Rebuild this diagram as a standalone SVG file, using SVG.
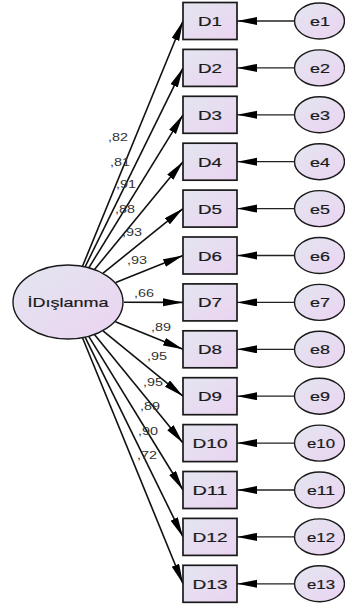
<svg xmlns="http://www.w3.org/2000/svg" width="345" height="608" viewBox="0 0 345 608">
<defs>
<linearGradient id="g" x1="0" y1="0" x2="1" y2="1">
<stop offset="0" stop-color="#e3e6f0"/>
<stop offset="1" stop-color="#ebd3f1"/>
</linearGradient>
<marker id="ah" markerUnits="userSpaceOnUse" markerWidth="21" markerHeight="9" refX="20" refY="4" orient="auto">
<path d="M0,0 L20,4 L0,8 z" fill="#000"/>
</marker>
<style>
.box{fill:url(#g);stroke:#1a1a1a;stroke-width:1.7}
.ell{fill:url(#g);stroke:#1a1a1a;stroke-width:1.4}
.t{font-family:"Liberation Sans",Arial,sans-serif;font-size:13.5px;fill:#1a1a1a;text-anchor:middle;stroke:#1a1a1a;stroke-width:0.2}
.lab{font-family:"Liberation Sans",Arial,sans-serif;font-size:10px;fill:#333}
.ld{stroke:#111;stroke-width:1.6;fill:none;marker-end:url(#ah)}
.er{stroke:#222;stroke-width:1.3;fill:none;marker-end:url(#ah)}
</style>
</defs>
<g id="connectors">
<line class="ld" x1="82.5" y1="266.3" x2="183" y2="21"/>
<line class="ld" x1="85.1" y1="266.8" x2="183" y2="67.9"/>
<line class="ld" x1="88.9" y1="267.7" x2="183" y2="114.8"/>
<line class="ld" x1="94.5" y1="269.4" x2="183" y2="161.7"/>
<line class="ld" x1="103.1" y1="273.2" x2="183" y2="208.6"/>
<line class="ld" x1="115.7" y1="282.6" x2="183" y2="255.5"/>
<line class="ld" x1="124" y1="302.3" x2="183" y2="302.4"/>
<line class="ld" x1="115.4" y1="321.7" x2="183" y2="349.3"/>
<line class="ld" x1="103" y1="330.9" x2="183" y2="396.2"/>
<line class="ld" x1="94.4" y1="334.6" x2="183" y2="443.1"/>
<line class="ld" x1="88.8" y1="336.3" x2="183" y2="490"/>
<line class="ld" x1="85.1" y1="337.2" x2="183" y2="536.9"/>
<line class="ld" x1="82.5" y1="337.8" x2="183" y2="583.8"/>
<line class="er" x1="294" y1="21" x2="237" y2="21"/>
<line class="er" x1="294" y1="67.9" x2="237" y2="67.9"/>
<line class="er" x1="294" y1="114.8" x2="237" y2="114.8"/>
<line class="er" x1="294" y1="161.7" x2="237" y2="161.7"/>
<line class="er" x1="294" y1="208.6" x2="237" y2="208.6"/>
<line class="er" x1="294" y1="255.5" x2="237" y2="255.5"/>
<line class="er" x1="294" y1="302.4" x2="237" y2="302.4"/>
<line class="er" x1="294" y1="349.3" x2="237" y2="349.3"/>
<line class="er" x1="294" y1="396.2" x2="237" y2="396.2"/>
<line class="er" x1="294" y1="443.1" x2="237" y2="443.1"/>
<line class="er" x1="294" y1="490" x2="237" y2="490"/>
<line class="er" x1="294" y1="536.9" x2="237" y2="536.9"/>
<line class="er" x1="294" y1="583.8" x2="237" y2="583.8"/>
<text class="lab" x="108" y="141" textLength="20" lengthAdjust="spacingAndGlyphs">,82</text>
<text class="lab" x="110" y="166" textLength="20" lengthAdjust="spacingAndGlyphs">,81</text>
<text class="lab" x="116" y="188" textLength="20" lengthAdjust="spacingAndGlyphs">,91</text>
<text class="lab" x="115" y="213" textLength="20" lengthAdjust="spacingAndGlyphs">,88</text>
<text class="lab" x="122" y="236" textLength="20" lengthAdjust="spacingAndGlyphs">,93</text>
<text class="lab" x="127" y="264" textLength="20" lengthAdjust="spacingAndGlyphs">,93</text>
<text class="lab" x="134" y="297" textLength="20" lengthAdjust="spacingAndGlyphs">,66</text>
<text class="lab" x="151" y="331" textLength="20" lengthAdjust="spacingAndGlyphs">,89</text>
<text class="lab" x="147" y="360" textLength="20" lengthAdjust="spacingAndGlyphs">,95</text>
<text class="lab" x="143" y="386" textLength="20" lengthAdjust="spacingAndGlyphs">,95</text>
<text class="lab" x="140" y="410" textLength="20" lengthAdjust="spacingAndGlyphs">,89</text>
<text class="lab" x="138" y="435" textLength="20" lengthAdjust="spacingAndGlyphs">,90</text>
<text class="lab" x="137" y="459" textLength="20" lengthAdjust="spacingAndGlyphs">,72</text>
</g>
<g id="latent"><ellipse class="ell" cx="68" cy="302" rx="55" ry="37"/><text class="t" x="68" y="307" textLength="81" lengthAdjust="spacingAndGlyphs">İDışlanma</text></g>
<g id="D1"><rect class="box" x="183" y="2.5" width="54" height="37"/><text class="t" x="210" y="26" textLength="24" lengthAdjust="spacingAndGlyphs">D1</text></g>
<g id="D2"><rect class="box" x="183" y="49.4" width="54" height="37"/><text class="t" x="210" y="72.9" textLength="24" lengthAdjust="spacingAndGlyphs">D2</text></g>
<g id="D3"><rect class="box" x="183" y="96.3" width="54" height="37"/><text class="t" x="210" y="119.8" textLength="24" lengthAdjust="spacingAndGlyphs">D3</text></g>
<g id="D4"><rect class="box" x="183" y="143.2" width="54" height="37"/><text class="t" x="210" y="166.7" textLength="24" lengthAdjust="spacingAndGlyphs">D4</text></g>
<g id="D5"><rect class="box" x="183" y="190.1" width="54" height="37"/><text class="t" x="210" y="213.6" textLength="24" lengthAdjust="spacingAndGlyphs">D5</text></g>
<g id="D6"><rect class="box" x="183" y="237" width="54" height="37"/><text class="t" x="210" y="260.5" textLength="24" lengthAdjust="spacingAndGlyphs">D6</text></g>
<g id="D7"><rect class="box" x="183" y="283.9" width="54" height="37"/><text class="t" x="210" y="307.4" textLength="24" lengthAdjust="spacingAndGlyphs">D7</text></g>
<g id="D8"><rect class="box" x="183" y="330.8" width="54" height="37"/><text class="t" x="210" y="354.3" textLength="24" lengthAdjust="spacingAndGlyphs">D8</text></g>
<g id="D9"><rect class="box" x="183" y="377.7" width="54" height="37"/><text class="t" x="210" y="401.2" textLength="24" lengthAdjust="spacingAndGlyphs">D9</text></g>
<g id="D10"><rect class="box" x="183" y="424.6" width="54" height="37"/><text class="t" x="210" y="448.1" textLength="35" lengthAdjust="spacingAndGlyphs">D10</text></g>
<g id="D11"><rect class="box" x="183" y="471.5" width="54" height="37"/><text class="t" x="210" y="495" textLength="35" lengthAdjust="spacingAndGlyphs">D11</text></g>
<g id="D12"><rect class="box" x="183" y="518.4" width="54" height="37"/><text class="t" x="210" y="541.9" textLength="35" lengthAdjust="spacingAndGlyphs">D12</text></g>
<g id="D13"><rect class="box" x="183" y="565.3" width="54" height="37"/><text class="t" x="210" y="588.8" textLength="35" lengthAdjust="spacingAndGlyphs">D13</text></g>
<g id="e1"><ellipse class="ell" cx="319.5" cy="21" rx="25" ry="18"/><text class="t" x="320" y="26" textLength="20" lengthAdjust="spacingAndGlyphs">e1</text></g>
<g id="e2"><ellipse class="ell" cx="319.5" cy="67.9" rx="25" ry="18"/><text class="t" x="320" y="72.9" textLength="20" lengthAdjust="spacingAndGlyphs">e2</text></g>
<g id="e3"><ellipse class="ell" cx="319.5" cy="114.8" rx="25" ry="18"/><text class="t" x="320" y="119.8" textLength="20" lengthAdjust="spacingAndGlyphs">e3</text></g>
<g id="e4"><ellipse class="ell" cx="319.5" cy="161.7" rx="25" ry="18"/><text class="t" x="320" y="166.7" textLength="20" lengthAdjust="spacingAndGlyphs">e4</text></g>
<g id="e5"><ellipse class="ell" cx="319.5" cy="208.6" rx="25" ry="18"/><text class="t" x="320" y="213.6" textLength="20" lengthAdjust="spacingAndGlyphs">e5</text></g>
<g id="e6"><ellipse class="ell" cx="319.5" cy="255.5" rx="25" ry="18"/><text class="t" x="320" y="260.5" textLength="20" lengthAdjust="spacingAndGlyphs">e6</text></g>
<g id="e7"><ellipse class="ell" cx="319.5" cy="302.4" rx="25" ry="18"/><text class="t" x="320" y="307.4" textLength="20" lengthAdjust="spacingAndGlyphs">e7</text></g>
<g id="e8"><ellipse class="ell" cx="319.5" cy="349.3" rx="25" ry="18"/><text class="t" x="320" y="354.3" textLength="20" lengthAdjust="spacingAndGlyphs">e8</text></g>
<g id="e9"><ellipse class="ell" cx="319.5" cy="396.2" rx="25" ry="18"/><text class="t" x="320" y="401.2" textLength="20" lengthAdjust="spacingAndGlyphs">e9</text></g>
<g id="e10"><ellipse class="ell" cx="319.5" cy="443.1" rx="25" ry="18"/><text class="t" x="321" y="448.1" textLength="28" lengthAdjust="spacingAndGlyphs">e10</text></g>
<g id="e11"><ellipse class="ell" cx="319.5" cy="490" rx="25" ry="18"/><text class="t" x="321" y="495" textLength="28" lengthAdjust="spacingAndGlyphs">e11</text></g>
<g id="e12"><ellipse class="ell" cx="319.5" cy="536.9" rx="25" ry="18"/><text class="t" x="321" y="541.9" textLength="28" lengthAdjust="spacingAndGlyphs">e12</text></g>
<g id="e13"><ellipse class="ell" cx="319.5" cy="583.8" rx="25" ry="18"/><text class="t" x="321" y="588.8" textLength="28" lengthAdjust="spacingAndGlyphs">e13</text></g>
</svg>
